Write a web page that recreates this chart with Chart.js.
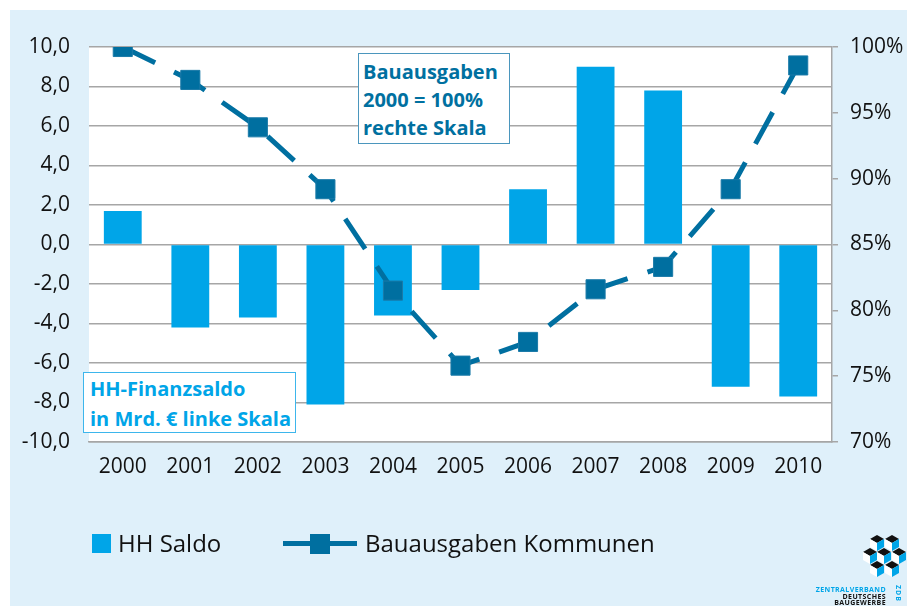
<!DOCTYPE html>
<html lang="de">
<head>
<meta charset="utf-8">
<title>HH Saldo und Bauausgaben Kommunen</title>
<script src="https://cdn.jsdelivr.net/npm/chart.js@4.4.1/dist/chart.umd.min.js"></script>
<style>
  html, body { margin: 0; padding: 0; background: #fff; }
  #wrap { position: relative; width: 907px; height: 606px; overflow: hidden; font-family: "Open Sans", sans-serif; }
  #bg { position: absolute; left: 10px; top: 10px; right: 0; bottom: 0; background: #dff0fa; }
  #chart { position: absolute; left: 0; top: 0; }
  .note { position: absolute; background: #fff; font-weight: bold; font-size: 20px; box-sizing: border-box; white-space: nowrap; }
  #noteRight { left: 358px; top: 53px; width: 152px; height: 91px; border: 1.5px solid #4b96bd; color: #0070a0; line-height: 28px; padding: 4px 0 0 4px; }
  #noteLeft { left: 83px; top: 372px; width: 213px; height: 61px; border: 1.5px solid #3db6ec; color: #00a5e8; line-height: 30px; padding: 1px 0 0 6px; }
  .legend { position: absolute; top: 527px; font-size: 24px; color: #111; line-height: 32px; white-space: nowrap; }
  .swatch { position: absolute; }
  .logoText { position: absolute; right: 21px; font-size: 7px; font-weight: bold; letter-spacing: 0.4px; line-height: 8px; text-align: right; white-space: nowrap; }
  #zdb { position: absolute; left: 902px; top: 585px; font-size: 7px; line-height: 8px; font-weight: bold; color: #00a5e8; transform: rotate(90deg); transform-origin: left top; letter-spacing: 1px; white-space: nowrap; }
</style>
</head>
<body>
<div id="wrap">
  <div id="bg"></div>
  <canvas id="chart" width="907" height="606"></canvas>

  <div class="note" id="noteRight">Bauausgaben<br>2000 = 100%<br>rechte Skala</div>
  <div class="note" id="noteLeft">HH-Finanzsaldo<br>in Mrd. € linke Skala</div>

  <div class="swatch" style="left:92px; top:534px; width:19px; height:19px; background:#00a5e8;"></div>
  <div class="legend" style="left:118px;">HH Saldo</div>
  <div class="swatch" style="left:283px; top:541px; width:74px; height:5px; background:#006fa0;"></div>
  <div class="swatch" style="left:310px; top:534px; width:20px; height:20px; background:#006fa0;"></div>
  <div class="legend" style="left:365px;">Bauausgaben Kommunen</div>

  <svg style="position:absolute; left:862px; top:534px;" width="45" height="44" viewBox="0 0 45 44">
    <polygon points="15,1 22,5 15,9 8,5" fill="#111"/>
    <polygon points="30,1 37,5 30,9 23,5" fill="#111"/>
    <polygon points="8,5 15,9 15,17 8,13" fill="#fff"/>
    <polygon points="22,5 15,9 15,17 22,13" fill="#00a5e8"/>
    <polygon points="23,5 30,9 30,17 23,13" fill="#fff"/>
    <polygon points="37,5 30,9 30,17 37,13" fill="#00a5e8"/>
    <polygon points="8,14 15,18 8,22 1,18" fill="#111"/>
    <polygon points="22,14 29,18 22,22 15,18" fill="#111"/>
    <polygon points="37,14 44,18 37,22 30,18" fill="#111"/>
    <polygon points="1,18 8,22 8,30 1,26" fill="#fff"/>
    <polygon points="15,18 8,22 8,30 15,26" fill="#00a5e8"/>
    <polygon points="15,18 22,22 22,30 15,26" fill="#fff"/>
    <polygon points="29,18 22,22 22,30 29,26" fill="#00a5e8"/>
    <polygon points="30,18 37,22 37,30 30,26" fill="#fff"/>
    <polygon points="44,18 37,22 37,30 44,26" fill="#00a5e8"/>
    <polygon points="15,27 22,31 15,35 8,31" fill="#111"/>
    <polygon points="30,27 37,31 30,35 23,31" fill="#111"/>
    <polygon points="8,31 15,35 15,43 8,39" fill="#fff"/>
    <polygon points="22,31 15,35 15,43 22,39" fill="#00a5e8"/>
    <polygon points="23,31 30,35 30,43 23,39" fill="#fff"/>
    <polygon points="37,31 30,35 30,43 37,39" fill="#00a5e8"/>
  </svg>
  <div class="logoText" style="top:586px; color:#00a5e8;">ZENTRALVERBAND</div>
  <div class="logoText" style="top:593px; color:#111;">DEUTSCHES</div>
  <div class="logoText" style="top:599px; color:#111;">BAUGEWERBE</div>
  <div id="zdb">ZDB</div>
</div>

<script>
// Jahre (Kategorien)
const years = ["2000", "2001", "2002", "2003", "2004", "2005", "2006", "2007", "2008", "2009", "2010"];

// HH-Finanzsaldo in Mrd. € (linke Skala)
const hhSaldo = [1.7, -4.2, -3.7, -8.1, -3.6, -2.3, 2.8, 9.0, 7.8, -7.2, -7.7];

// Bauausgaben Kommunen, 2000 = 100% (rechte Skala)
const bauausgaben = [100, 97.5, 93.9, 89.2, 81.5, 75.8, 77.6, 81.6, 83.3, 89.2, 98.6];

// Achsen
const leftMin = -10, leftMax = 10, leftStep = 2;
const rightMin = 70, rightMax = 100, rightStep = 5;

const gridGray = "#a6a6a6";
const tickFont = { family: "'Open Sans', sans-serif", size: 21 };

// weisser Hintergrund nur im Plotbereich
const plotBg = {
    id: "plotBg",
    beforeDraw(chart) {
        const { ctx, chartArea: a } = chart;
        ctx.save();
        ctx.fillStyle = "#ffffff";
        ctx.fillRect(a.left, a.top, a.right - a.left, a.bottom - a.top);
        ctx.restore();
    }
};

new Chart(document.getElementById("chart"), {
    data: {
        labels: years,
        datasets: [
            {
                type: "line",
                label: "Bauausgaben Kommunen",
                data: bauausgaben,
                yAxisID: "y1",
                order: 0,
                borderColor: "#006fa0",
                borderWidth: 5,
                borderDash: [36, 21],
                borderCapStyle: "butt",
                tension: 0,
                pointStyle: "rect",
                pointRadius: 13.5,
                pointBackgroundColor: "#006fa0",
                pointBorderColor: "#1a7aa8",
                pointBorderWidth: 1
            },
            {
                type: "bar",
                label: "HH Saldo",
                data: hhSaldo,
                yAxisID: "y",
                order: 1,
                backgroundColor: "#00a5e8",
                categoryPercentage: 0.8,
                barPercentage: 0.7
            }
        ]
    },
    options: {
        responsive: false,
        animation: false,
        layout: { padding: { top: 47, bottom: 114, left: 0, right: 0 } },
        plugins: {
            legend: { display: false },
            tooltip: { enabled: false }
        },
        scales: {
            x: {
                afterFit: s => { s.height = 50; },
                grid: { display: false, drawTicks: false },
                border: { display: true, color: gridGray, width: 1.5 },
                ticks: { color: "#111", font: tickFont, padding: 12 }
            },
            y: {
                position: "left",
                min: leftMin,
                max: leftMax,
                afterFit: s => { s.width = 89; },
                grid: { color: gridGray, lineWidth: 1.5, drawTicks: false },
                border: { display: false },
                ticks: {
                    stepSize: leftStep,
                    color: "#111",
                    font: tickFont,
                    padding: 19,
                    callback: v => v.toFixed(1).replace(".", ",")
                }
            },
            y1: {
                position: "right",
                min: rightMin,
                max: rightMax,
                afterFit: s => { s.width = 75; },
                grid: { drawOnChartArea: false, drawTicks: true, tickLength: 6, color: gridGray, lineWidth: 1.5 },
                border: { display: true, color: gridGray, width: 1.5 },
                ticks: {
                    stepSize: rightStep,
                    color: "#111",
                    font: tickFont,
                    padding: 12,
                    callback: v => v + "%"
                }
            }
        }
    },
    plugins: [plotBg]
});
</script>
</body>
</html>
